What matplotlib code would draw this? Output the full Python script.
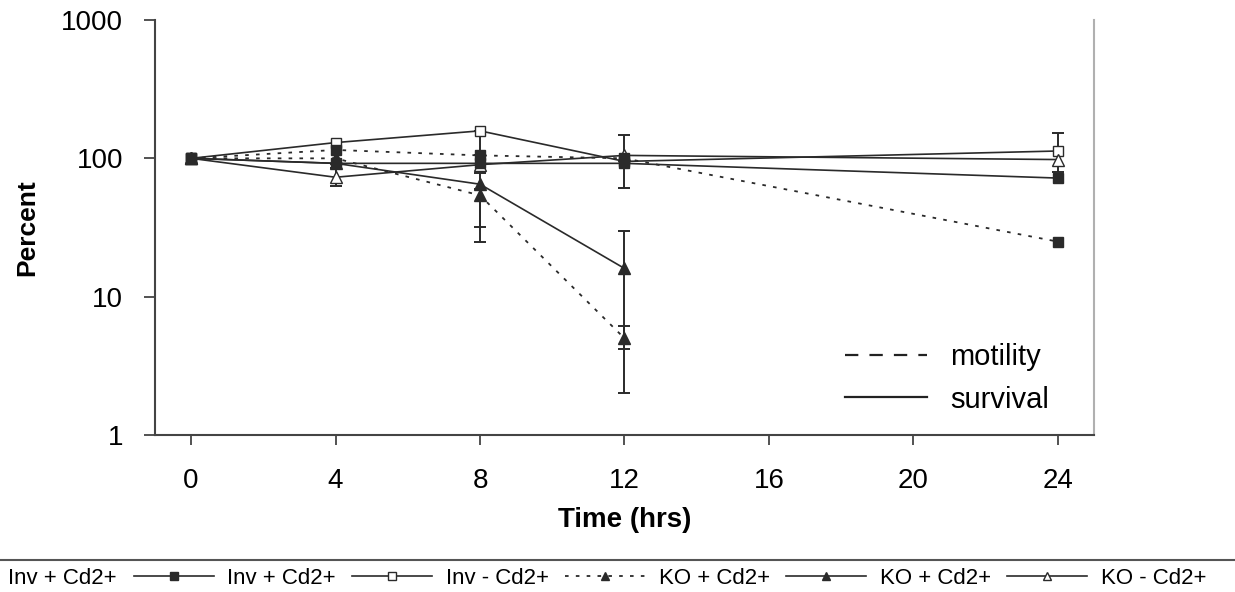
import matplotlib.pyplot as plt
from matplotlib.lines import Line2D

plt.rcParams['font.family'] = ['Liberation Sans', 'DejaVu Sans']

# time points (hrs)
time = [0, 4, 8, 12, 24]
time_ko = [0, 4, 8, 12]

# percent values
inv_cd_motility = [100, 115, 105, 100, 25]
inv_cd_survival = [100, 92, 92, 92, 72]
inv_nocd_survival = [100, 130, 158, 95, 113]
ko_cd_motility = [100, 100, 54, 5]
ko_cd_survival = [100, 92, 65, 16]
ko_nocd_survival = [100, 73, 90, 105, 98]

# error bars: time -> (low, high)
inv_nocd_err = {8: (105, 158), 12: (61, 148), 24: (80, 152)}
ko_cd_motility_err = {8: (25, 60), 12: (4.2, 6.1)}
ko_cd_survival_err = {8: (32, 78), 12: (2.0, 30)}
ko_nocd_err = {4: (63, 85)}

legend_labels = ['Inv + Cd2+', 'Inv + Cd2+', 'Inv - Cd2+',
                 'KO + Cd2+', 'KO + Cd2+', 'KO - Cd2+']

ink = '#2a2a2a'
dotted = (0, (2, 4))

fig = plt.figure(figsize=(12.35, 5.92), dpi=100)
ax = fig.add_axes([0.1255, 0.2652, 0.7603, 0.7010])


def draw_errors(xs, ys, errs):
    for t, (lo, hi) in errs.items():
        v = ys[xs.index(t)]
        ax.errorbar([t], [v], yerr=[[v - lo], [hi - v]], fmt='none',
                    ecolor=ink, elinewidth=1.4, capsize=4, capthick=1.4, zorder=2)


draw_errors(time, inv_nocd_survival, inv_nocd_err)
draw_errors(time_ko, ko_cd_motility, ko_cd_motility_err)
draw_errors(time_ko, ko_cd_survival, ko_cd_survival_err)
draw_errors(time, ko_nocd_survival, ko_nocd_err)

lines = []
lines += ax.plot(time, inv_cd_motility, linestyle=dotted, color=ink, lw=1.3,
                 marker='s', ms=7, mfc=ink, mec=ink, zorder=5)
lines += ax.plot(time, inv_cd_survival, '-', color=ink, lw=1.2,
                 marker='s', ms=7, mfc=ink, mec=ink, zorder=4)
lines += ax.plot(time, inv_nocd_survival, '-', color=ink, lw=1.2,
                 marker='s', ms=7, mfc='white', mec=ink, zorder=3)
lines += ax.plot(time_ko, ko_cd_motility, linestyle=dotted, color=ink, lw=1.3,
                 marker='^', ms=8, mfc=ink, mec=ink, zorder=3)
lines += ax.plot(time_ko, ko_cd_survival, '-', color=ink, lw=1.2,
                 marker='^', ms=8, mfc=ink, mec=ink, zorder=3)
lines += ax.plot(time, ko_nocd_survival, '-', color=ink, lw=1.2,
                 marker='^', ms=8, mfc='white', mec=ink, zorder=3)

ax.set_yscale('log')
ax.set_ylim(1, 1000)
ax.set_xlim(-1, 25)
ax.set_yticks([1, 10, 100, 1000])
ax.set_yticklabels(['1', '10', '100', '1000'])
ax.minorticks_off()
ax.set_xticks([0, 4, 8, 12, 16, 20, 24])

ax.spines['top'].set_visible(False)
ax.spines['right'].set_color('#b0b0b0')
ax.spines['right'].set_linewidth(1.5)
for s in ['left', 'bottom']:
    ax.spines[s].set_color('#444444')
    ax.spines[s].set_linewidth(1.5)
ax.tick_params(axis='y', direction='out', length=8, width=1.3, color='#444444',
               labelsize=20, pad=15, right=False)
ax.tick_params(axis='x', direction='out', length=7, width=1.3, color='#444444',
               labelsize=20, pad=17)

ax.set_xlabel('Time (hrs)', fontsize=20, fontweight='bold', labelpad=9)
ax.set_ylabel('Percent', fontsize=19, fontweight='bold')
ax.yaxis.set_label_coords(-0.123, 0.5)

# motility / survival key
key = [Line2D([], [], color='#222222', lw=1.6, dashes=(6, 5)),
       Line2D([], [], color='#222222', lw=1.6)]
ax.legend(key, ['motility', 'survival'], loc='upper left', frameon=False,
          bbox_to_anchor=(845 / 1235, 1 - 343 / 592), bbox_transform=fig.transFigure,
          borderpad=0, borderaxespad=0, handlelength=2.8, handletextpad=0.8,
          labelspacing=0.5, fontsize=21)

# series legend strip along the bottom
fig.add_artist(Line2D([0, 1], [0.054, 0.054], transform=fig.transFigure,
                      color='#555555', lw=1.5))
fig.legend(lines, legend_labels, ncol=6, loc='center left', frameon=False,
           bbox_to_anchor=(-85 / 1235, 0.0236), borderpad=0, borderaxespad=0,
           handlelength=3.6, handletextpad=0.6, columnspacing=0.75, fontsize=16,
           markerscale=0.8)

fig.savefig('out.png', dpi=100)
